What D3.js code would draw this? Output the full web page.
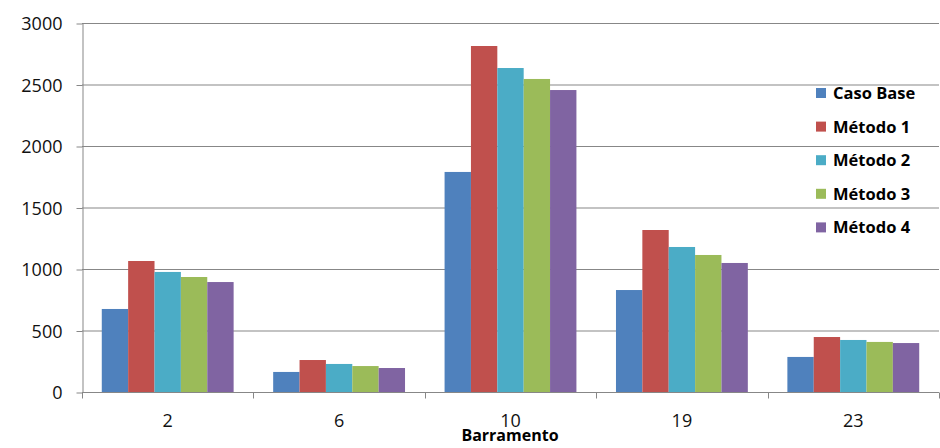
<!DOCTYPE html>
<html><head><meta charset="utf-8">
<script src="https://cdn.jsdelivr.net/npm/d3@7"></script>
<style>body{margin:0;background:#fff}svg{display:block}</style>
</head><body>
<svg id="c" width="940" height="448"></svg>
<script>
const categories = ["2","6","10","19","23"];
const seriesNames = ["Caso Base","Método 1","Método 2","Método 3","Método 4"];
const casoBase = [675, 163, 1789, 829, 285];
const metodo1 = [1065, 260, 2813, 1317, 447];
const metodo2 = [976, 228, 2634, 1179, 423];
const metodo3 = [935, 211, 2545, 1114, 407];
const metodo4 = [894, 195, 2455, 1049, 398];
const yTicks = [0,500,1000,1500,2000,2500,3000];
const colors = ["#4F81BD","#C0504D","#4BACC6","#9BBB59","#8064A2"];
const xTitle = "Barramento";

const series = [casoBase, metodo1, metodo2, metodo3, metodo4];
const svg = d3.select("#c");
const L = 82, R = 939, T = 23, B = 392;
const grid = "#878787";
const x0 = d3.scaleBand().domain(categories).range([L, R]);
const bw = x0.bandwidth();
const barW = bw / 6.5;
const x1 = d3.scaleBand().domain(d3.range(5)).range([barW*0.75, bw - barW*0.75]);
const y = d3.scaleLinear().domain([0,3000]).range([B, T]);

// gridlines
svg.append("g").selectAll("line").data(yTicks.filter(d=>d>0)).join("line")
  .attr("x1", L).attr("x2", R).attr("y1", d=>y(d)+0.5).attr("y2", d=>y(d)+0.5)
  .attr("stroke", grid).attr("stroke-width", 1);

// bars
const g = svg.append("g");
categories.forEach((c, i) => {
  series.forEach((s, j) => {
    g.append("rect")
      .attr("x", x0(c) + x1(j)).attr("width", x1.bandwidth())
      .attr("y", y(s[i])).attr("height", B - y(s[i]))
      .attr("fill", colors[j]);
  });
});

// y axis
const yAxis = d3.axisLeft(y).tickValues(yTicks).tickFormat(d3.format("d")).tickSize(6).tickSizeOuter(0);
const ya = svg.append("g").attr("transform", `translate(${L+0.5},0.5)`).call(yAxis);
ya.select(".domain").attr("stroke", grid);
ya.selectAll(".tick line").attr("stroke", grid);
ya.selectAll("text").attr("font-family","Open Sans").attr("font-size","18px").attr("fill","#111").attr("dy","0.35em").attr("x",-20);

// x axis
const xa = svg.append("g").attr("transform", `translate(0,${B+0.5})`);
xa.append("line").attr("x1", L).attr("x2", R).attr("stroke", grid);
const bounds = categories.map(c => x0(c)).concat([R]);
xa.selectAll(".tk").data(bounds).join("line").attr("class","tk")
  .attr("x1", d=>Math.round(d)+0.5).attr("x2", d=>Math.round(d)+0.5).attr("y1",0).attr("y2",6).attr("stroke", grid);
xa.selectAll("text").data(categories).join("text")
  .attr("x", c => x0(c) + bw/2).attr("y", 34)
  .attr("text-anchor","middle").attr("font-family","Open Sans").attr("font-size","18px").attr("fill","#111")
  .text(d=>d);

svg.append("text").attr("x", 510).attr("y", 441).attr("text-anchor","middle")
  .attr("font-family","Open Sans").attr("font-weight","bold").attr("font-size","16px").attr("fill","#000")
  .text(xTitle);

// legend
const lg = svg.append("g");
seriesNames.forEach((n, j) => {
  const cy = 93 + j*33.6;
  lg.append("rect").attr("x", 816).attr("y", cy-5).attr("width", 10).attr("height", 10).attr("fill", colors[j]);
  lg.append("text").attr("x", 833).attr("y", cy).attr("dy","0.36em")
    .attr("font-family","Open Sans").attr("font-weight","bold").attr("font-size","16.5px").attr("fill","#000")
    .text(n);
});
</script>
</body></html>
